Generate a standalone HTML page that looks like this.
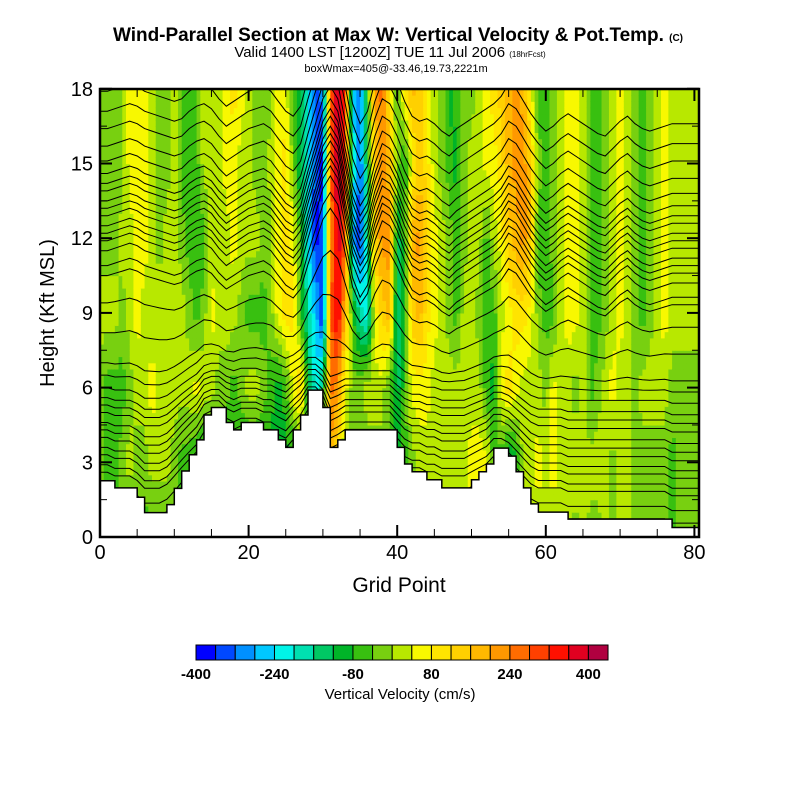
<!DOCTYPE html>
<html><head><meta charset="utf-8">
<style>
body{margin:0;background:#fff;}
svg text{font-family:"Liberation Sans",Arial,sans-serif;}
</style></head>
<body>
<svg id="chart" width="800" height="800" viewBox="0 0 800 800" xmlns="http://www.w3.org/2000/svg">
<rect width="800" height="800" fill="#fff"/>
<text x="398" y="41" text-anchor="middle" font-size="19" font-weight="bold" textLength="570">Wind-Parallel Section at Max W: Vertical Velocity &amp; Pot.Temp. <tspan font-size="10">(C)</tspan></text>
<text x="390" y="57" text-anchor="middle" font-size="15">Valid 1400 LST [1200Z] TUE 11 Jul 2006 <tspan font-size="8">(18hrFcst)</tspan></text>
<text x="396" y="72" text-anchor="middle" font-size="11">boxWmax=405@-33.46,19.73,2221m</text>
<defs><clipPath id="plotclip"><rect x="100" y="89" width="599" height="448"/></clipPath></defs>
<g id="field" clip-path="url(#plotclip)"></g>
<g id="contours" clip-path="url(#plotclip)"></g>
<g id="terrain" clip-path="url(#plotclip)"></g>
<g id="axes"></g>
<text x="399" y="592" text-anchor="middle" font-size="21">Grid Point</text>
<text transform="translate(54,313) rotate(-90)" text-anchor="middle" font-size="20">Height (Kft MSL)</text>
<g id="colorbar"></g>
<text x="400" y="699" text-anchor="middle" font-size="15">Vertical Velocity (cm/s)</text>
</svg>
<script>
const levels=[0,3,6,9,12,15,18];
const w0=[-60,-60,-60,-60,-60,-60,-60,-60,-60,-60,-60,-60,-60,-100,-100,-100,-100,-100,-100,-100,-100,-100,-100,-100,-100,-100,-100,-100,-100,-100,-100,180,100,-20,-20,-20,-20,-20,-20,-20,-60,-60,-20,20,20,20,20,20,20,20,60,60,60,-60,-60,-140,-100,20,20,20,20,20,20,20,-20,20,-20,-20,20,-20,20,20,-20,-20,-20,-20,-20,-60,-20,-20,-20];
const w3=[-20,-60,-60,-20,20,-20,-20,20,20,20,-20,-60,-60,-100,-100,-100,-100,-100,-100,-100,-100,-100,-100,-100,-100,-100,-100,-100,-100,-100,-100,180,100,-20,-20,-20,-20,-20,-20,-20,-100,-60,-20,20,20,20,20,20,20,20,60,60,60,-60,-60,-140,-100,20,20,60,20,60,20,20,20,20,20,20,20,-20,20,20,-20,-20,-20,-20,-20,-60,-20,-20,-20];
const w6=[-20,-60,-60,-60,-20,20,20,60,20,20,20,20,20,60,20,20,-20,-20,-60,-20,20,20,-20,-60,-100,-60,60,140,-100,-220,-140,260,220,60,-20,-20,20,20,20,-60,-140,-60,60,60,60,20,20,20,20,20,20,20,-60,-100,60,100,60,20,20,20,-20,60,20,20,-20,20,-60,-20,20,60,20,20,-20,20,20,20,20,-20,-20,-20,-20];
const w9=[20,20,20,-20,20,60,20,20,20,20,20,20,-20,-60,-20,60,20,20,20,-20,-60,-60,-60,-20,60,100,100,-60,-180,-260,-380,260,380,180,-60,-180,-220,60,140,180,-180,-100,140,180,100,60,20,-20,-60,20,20,-20,-60,-60,20,60,100,100,60,-20,-60,-60,20,60,60,20,-60,-60,-20,20,60,20,-20,-60,-20,20,60,20,20,20,20];
const w12=[-20,-20,-20,20,20,60,60,20,-20,20,20,-20,-60,-60,-60,20,20,20,60,20,20,20,-20,-20,60,100,60,-60,-220,-380,-340,220,400,260,-260,-380,-140,140,220,220,-140,-60,180,220,140,60,20,-20,-60,-20,20,20,-60,20,60,140,180,220,140,-60,-60,-20,20,60,60,20,-60,-60,-20,20,60,20,-20,-60,-20,20,60,20,20,20,20];
const w15=[-20,-20,-20,-20,60,60,60,20,-20,-20,20,-60,-60,-60,20,20,20,60,60,20,20,-20,-20,20,60,100,-20,-140,-220,-340,-380,260,400,340,-180,-340,-100,140,220,180,-20,-100,60,140,100,20,-20,-60,-100,-20,20,20,60,60,100,180,220,220,140,-20,-60,-20,20,60,60,20,-60,-60,-20,20,60,20,-20,-60,-20,20,60,20,20,20,20];
const w18=[-20,-20,-20,-20,60,60,60,20,-20,-20,20,-60,-60,-60,20,20,20,60,100,60,20,-20,-20,-20,60,60,-60,-100,-220,-340,-300,260,420,300,-260,-300,-60,220,260,100,-60,100,180,140,60,20,-20,-100,-60,-20,-20,20,60,100,140,180,220,180,60,-60,-60,-20,20,60,60,20,-60,-60,-20,20,60,20,-20,-60,-20,20,60,20,20,20,20];
const wRows=[w0,w3,w6,w9,w12,w15,w18];
const terrainKft=[2.26,2.26,1.97,1.97,1.97,1.6,0.98,0.98,0.98,1.3,1.95,2.65,3.3,3.9,4.9,5.2,5.2,4.6,4.3,4.6,4.6,4.6,4.3,4.3,3.9,3.6,4.3,4.9,5.9,5.9,5.2,3.6,3.9,4.3,4.3,4.3,4.3,4.3,4.3,4.3,3.6,2.93,2.62,2.62,2.3,2.3,1.97,1.97,1.97,1.97,2.3,2.62,2.93,3.57,3.57,3.25,2.62,1.97,1.33,1.0,1.0,1.0,1.0,0.72,0.72,0.72,0.72,0.72,0.72,0.72,0.72,0.72,0.72,0.72,0.72,0.72,0.72,0.38,0.38,0.38,0.38];
const thetaBase=[1.0,1.5,2.0,2.6,2.9,3.3,3.6,4.0,4.3,4.6,5.0,5.3,5.6,6.0,6.5,7.0,8.2,9.4,10.5,10.9,11.5,11.9,12.2,12.5,12.9,13.2,13.5,13.9,14.2,14.6,15.1,15.7,16.4,17.1,17.9];
const waveKft=[0,0,0.1,0.2,0.3,0.2,0,-0.1,-0.2,-0.3,-0.4,-0.3,0,0.2,0.3,0.1,-0.3,-0.6,-0.4,-0.2,0,0.1,0.2,0,-0.4,-0.8,-1.0,-0.6,0.5,1.5,2.5,3.0,2.5,1.0,-0.5,-1.3,-0.8,0.4,1.2,1.0,0.4,-0.4,-1.0,-1.2,-1.1,-1.3,-1.6,-1.8,-1.5,-1.3,-1.1,-0.9,-0.7,-0.5,-0.2,0.3,0.1,-0.4,-0.9,-1.3,-1.6,-1.4,-1.1,-0.9,-1.1,-1.3,-1.5,-1.7,-1.8,-1.5,-1.2,-1.0,-1.3,-1.5,-1.6,-1.5,-1.4,-1.3,-1.3,-1.3,-1.3];
const cbColors=["#0000ff","#0048ff","#0090ff","#00c8ff","#00f4e8","#00e0b0","#00c864","#00b428","#38c010","#78d010","#b8e800","#f8f800","#ffe400","#ffd000","#ffb800","#ff9800","#ff6c00","#ff4000","#ff1000","#e00020","#b00040"];
const cbTicks=[-400,-240,-80,80,240,400];
const xTicks=[0,20,40,60,80];
const yTicks=[0,3,6,9,12,15,18];

const NS="http://www.w3.org/2000/svg";
const X0=100,XS=7.43,Y0=537,YS=24.9,XMAX=80.7;
const xs=g=>X0+g*XS, ys=z=>Y0-z*YS;
function mk(tag,attrs,parent){const e=document.createElementNS(NS,tag);for(const k in attrs)e.setAttribute(k,attrs[k]);parent.appendChild(e);return e;}
function colorOf(v){let k=Math.floor((v+400)/40);k=Math.max(0,Math.min(20,k));return cbColors[k];}
function wAt(g,z){
  const gi=Math.min(79,Math.max(0,Math.floor(g))),gf=Math.min(1,Math.max(0,g-gi));
  let li=0;while(li<levels.length-2&&z>levels[li+1])li++;
  const lf=Math.min(1,Math.max(0,(z-levels[li])/(levels[li+1]-levels[li])));
  const a=wRows[li],b=wRows[li+1];
  const va=a[gi]*(1-gf)+a[gi+1]*gf, vb=b[gi]*(1-gf)+b[gi+1]*gf;
  return va*(1-lf)+vb*lf;
}
const field=document.getElementById('field');
const DG=0.5,DZ=0.25;
for(let g=0;g<XMAX;g+=DG){
  for(let z=0;z<18;z+=DZ){
    const v=wAt(g+DG/2,z+DZ/2);
    const r=mk('rect',{x:xs(g).toFixed(2),y:ys(z+DZ).toFixed(2),width:(DG*XS+0.6).toFixed(2),height:(DZ*YS+0.6).toFixed(2),fill:colorOf(v)},field);
    
    
  }
}
const cont=document.getElementById('contours');
const clamp=(v,a,b)=>Math.max(a,Math.min(b,v));
thetaBase.forEach((z0,i)=>{
  const wU=clamp((z0-6)/5,0,1), wL=clamp((10-z0)/6,0,1);
  let pts=[];
  for(let g=0;g<=80;g++){
    const z=z0+wU*waveKft[g]+wL*(terrainKft[g]-2.26)*0.5;
    pts.push(xs(g).toFixed(1)+','+ys(z).toFixed(1));
  }
  const zl=z0+wU*waveKft[80]+wL*(terrainKft[80]-2.26)*0.5;
  pts.push(xs(XMAX).toFixed(1)+','+ys(zl).toFixed(1));
  const p=mk('polyline',{points:pts.join(' '),fill:'none',stroke:'#000','stroke-width':1},cont);
  
  
});
const ter=document.getElementById('terrain');
let d='M'+xs(0)+','+ys(0);
terrainKft.forEach((t,g)=>{const x1=xs(g),x2=xs(Math.min(g+1,XMAX+0.3));d+=' L'+x1.toFixed(1)+','+ys(t).toFixed(1)+' L'+x2.toFixed(1)+','+ys(t).toFixed(1);});
d+=' L'+xs(XMAX+0.3)+','+ys(0)+' Z';
const tp=mk('path',{d:d,fill:'#fff',stroke:'#000','stroke-width':1.5},ter);


const ax=document.getElementById('axes');
mk('rect',{x:100,y:89,width:599,height:448,fill:'none',stroke:'#000','stroke-width':2.5},ax);
for(let g=0;g<=80;g+=5){
  const major=g%20===0,L=major?12:8,x=xs(g);
  mk('line',{x1:x,y1:537,x2:x,y2:537-L,stroke:'#000','stroke-width':major?2:1},ax);
  mk('line',{x1:x,y1:89,x2:x,y2:89+L,stroke:'#000','stroke-width':major?2:1},ax);
}
xTicks.forEach(t=>{const e=mk('text',{x:xs(t),y:559,'text-anchor':'middle','font-size':20},ax);e.textContent=t;
  
  });
for(let z=0;z<=18;z+=1.5){
  const major=z%3===0,L=major?12:7,y=ys(z);
  mk('line',{x1:100,y1:y,x2:100+L,y2:y,stroke:'#000','stroke-width':major?2:1},ax);
  mk('line',{x1:699,y1:y,x2:699-L,y2:y,stroke:'#000','stroke-width':major?2:1},ax);
}
yTicks.forEach(t=>{const e=mk('text',{x:93,y:ys(t)+7,'text-anchor':'end','font-size':20},ax);e.textContent=t;
  
  });
const cb=document.getElementById('colorbar');
const CBX=196,CBW=19.62;
cbColors.forEach((c,k)=>{const r=mk('rect',{x:CBX+k*CBW,y:645,width:CBW,height:15,fill:c,stroke:'#000','stroke-width':1},cb);
  
  });
cbTicks.forEach(t=>{const e=mk('text',{x:CBX+(t+400)/40*CBW,y:679,'text-anchor':'middle','font-size':15,'font-weight':'bold'},cb);e.textContent=t;
  
  });
</script>
</body></html>
